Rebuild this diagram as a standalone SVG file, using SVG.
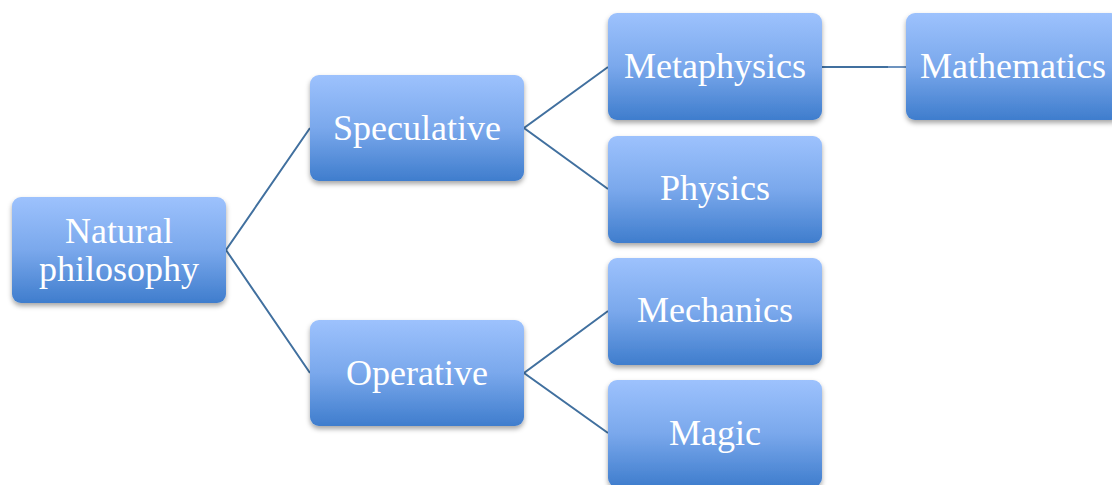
<svg xmlns="http://www.w3.org/2000/svg" width="1112" height="485" viewBox="0 0 1112 485">
<defs>
<linearGradient id="g" x1="0" y1="0" x2="0" y2="1">
<stop offset="0" stop-color="#9DC2FD"/>
<stop offset="0.5" stop-color="#7AA8EC"/>
<stop offset="1" stop-color="#3F7DCD"/>
</linearGradient>
<filter id="sh" x="-10%" y="-10%" width="120%" height="130%">
<feDropShadow dx="0" dy="3" stdDeviation="2.5" flood-color="#000" flood-opacity="0.35"/>
</filter>
</defs>
<style>
.box{fill:url(#g);filter:url(#sh)}
.t{font-family:"Liberation Serif","Times New Roman",serif;font-size:36px;fill:#fff;text-anchor:middle}
.c{stroke:#41709F;stroke-width:2;fill:none}
</style>
<rect width="1112" height="485" fill="#fff"/>
<g id="connectors">
<polyline class="c" points="310,128 226,250 310,373"/>
<polyline class="c" points="608,67 524,128 608,189"/>
<polyline class="c" points="608,311 524,373 608,433"/>
<line class="c" x1="822" y1="67" x2="888" y2="67"/>
<line x1="888" y1="67" x2="906" y2="67" stroke="#6D93BF" stroke-width="2"/>
</g>
<g id="natural"><rect class="box" x="12" y="197" width="214" height="106" rx="9"/><text class="t" x="119" y="243">Natural</text><text class="t" x="119" y="281">philosophy</text></g>
<g id="speculative"><rect class="box" x="310" y="75" width="214" height="106" rx="9"/><text class="t" x="417" y="140">Speculative</text></g>
<g id="operative"><rect class="box" x="310" y="320" width="214" height="106" rx="9"/><text class="t" x="417" y="385">Operative</text></g>
<g id="metaphysics"><rect class="box" x="608" y="13" width="214" height="107" rx="9"/><text class="t" x="715" y="78">Metaphysics</text></g>
<g id="physics"><rect class="box" x="608" y="136" width="214" height="107" rx="9"/><text class="t" x="715" y="200">Physics</text></g>
<g id="mechanics"><rect class="box" x="608" y="258" width="214" height="107" rx="9"/><text class="t" x="715" y="322">Mechanics</text></g>
<g id="magic"><rect class="box" x="608" y="380" width="214" height="107" rx="9"/><text class="t" x="715" y="445">Magic</text></g>
<g id="mathematics"><rect class="box" x="906" y="13" width="214" height="107" rx="9"/><text class="t" x="1013" y="78">Mathematics</text></g>
</svg>
